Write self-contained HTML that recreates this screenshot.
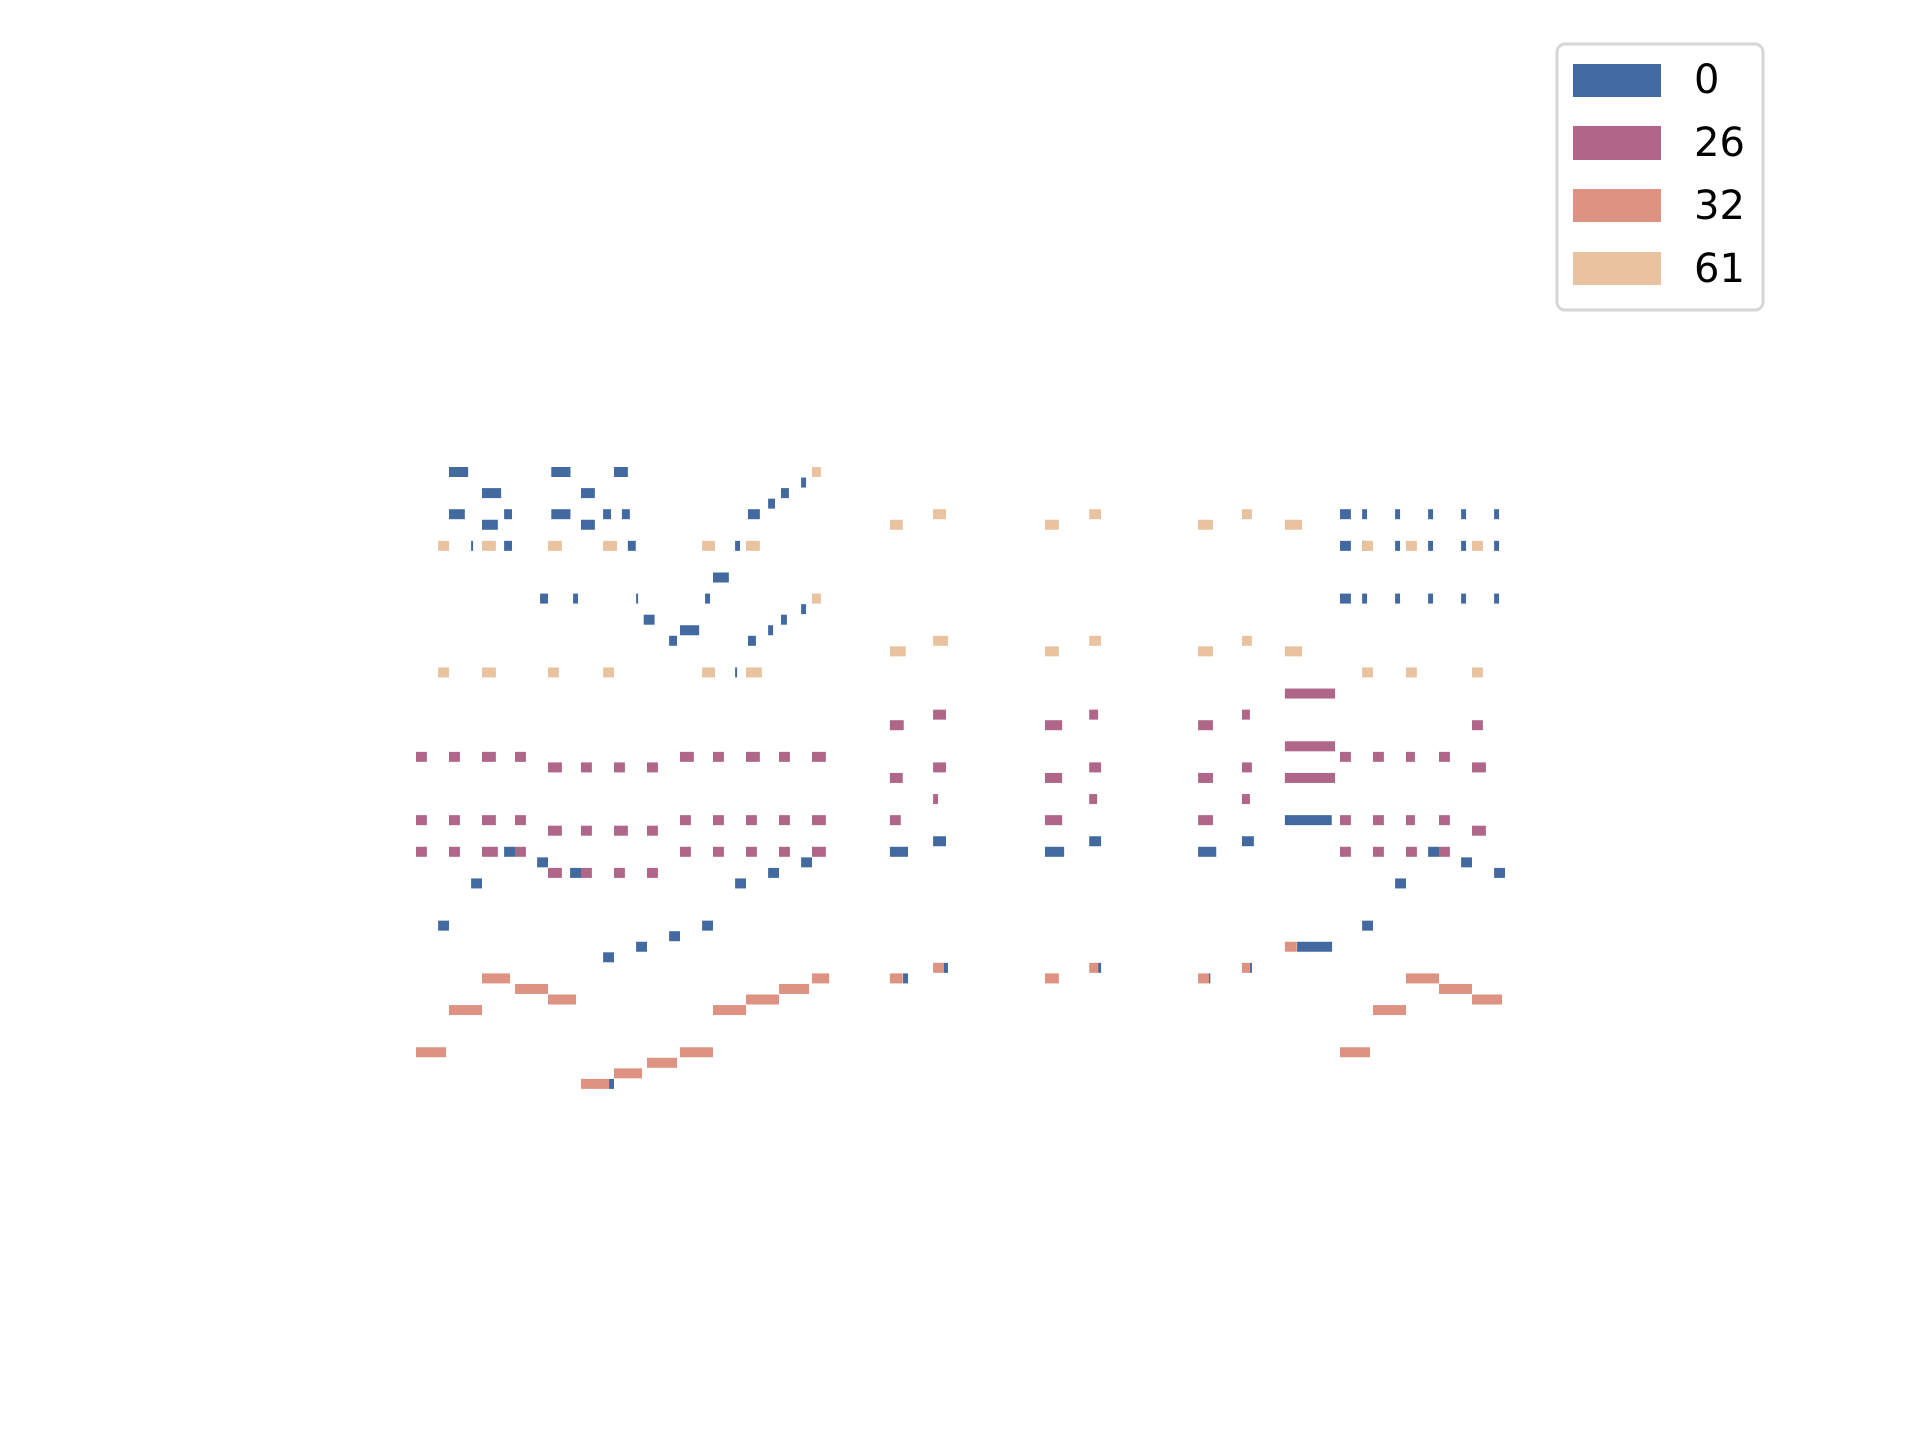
<!DOCTYPE html>
<html><head><meta charset="utf-8"><style>
html,body{margin:0;padding:0;background:#fff;}
#wrap{position:relative;width:1920px;height:1440px;overflow:hidden;}
svg{position:absolute;left:0;top:0;}
</style></head><body>
<div id="wrap">
<svg id="chart" width="1920" height="1440">
<g id="notes"></g>
<g id="legend">
<rect x="1557" y="44" width="206" height="266" rx="8" fill="#fff" stroke="#d6d6d6" stroke-width="3"/>
<g><rect x="1573" y="64" width="88" height="33" fill="#4269a0"/><text x="1694" y="93" font-family="DejaVu Sans, Liberation Sans, sans-serif" font-size="40">0</text></g>
<g><rect x="1573" y="126" width="88" height="34" fill="#b06688"/><text x="1694" y="156" font-family="DejaVu Sans, Liberation Sans, sans-serif" font-size="40">26</text></g>
<g><rect x="1573" y="189" width="88" height="33" fill="#dd9282"/><text x="1694" y="219" font-family="DejaVu Sans, Liberation Sans, sans-serif" font-size="40">32</text></g>
<g><rect x="1573" y="252" width="88" height="33" fill="#e9c39f"/><text x="1694" y="282" font-family="DejaVu Sans, Liberation Sans, sans-serif" font-size="40">61</text></g>
</g>
</svg>
</div>
<script>
// Series labels (program numbers) and colors
const seriesNames = ["0", "26", "32", "61"];
// Series 0 (blue): start beat, duration beat, pitch
const s0Start = [1,4.1,6,11.67,2,5,11.06,10.67,1,2.67,4.1,5.67,6.24,10.06,2,5,1.67,2.67,6.42,9.67,9,3.76,4.76,6.67,8.76,11.67,6.9,11.06,8,10.67,7.67,10.06,9.67,
 2.67,3.67,11.67,4.67,10.67,1.67,9.67,0.67,8.67,7.67,6.67,5.67,5.85,
 26.33,15.67,20.4,25.03,14.36,19.06,23.7,26.7,16,20.67,25.27,14.76,24.03,
 28,28.67,29.67,30.67,31.67,32.67, 28,28.67,29.67,30.67,31.67,32.67, 28,28.67,29.67,30.67,31.67,32.67,
 30.67,31.67,32.67,29.67,28.67];
const s0Dur = [.58,.58,.42,.15,.58,.42,.24,.21,.48,.24,.58,.24,.24,.36,.48,.42,.06,.24,.24,.15,.48,.24,.15,.06,.15,.15,.33,.18,.58,.15,.24,.24,.06,
 .33,.33,.33,.33,.33,.33,.33,.33,.33,.33,.33,.33,.15,
 1.42,.39,.36,.36,.55,.58,.55,1.06,.12,.09,.06,.15,.04,
 .33,.15,.15,.15,.15,.15, .33,.15,.15,.15,.15,.15, .33,.15,.15,.15,.15,.15,
 .33,.33,.33,.33,.33];
const s0Pitch = [100,100,100,99,98,98,98,97,96,96,96,96,96,96,95,95,93,93,93,93,90,88,88,88,88,87,86,86,85,85,84,84,81,
 64,63,63,62,62,61,61,57,57,56,55,54,42,
 67,65,65,65,64,64,64,55,53,53,53,52,52,
 96,96,96,96,96,96, 93,93,93,93,93,93, 88,88,88,88,88,88,
 64,63,62,61,57];
// Series 26 (mauve)
const s1Start = [0,1,2,3,8,9,10,11,12, 4,5,6,7, 0,1,2,3,8,9,10,11,12, 4,5,6,7, 0,1,2,3,8,9,10,11,12, 4,5,6,7,
 26.33, 15.67,20.4,25.03, 14.36,19.06,23.7,32, 26.33, 28,29,30,31, 15.67,20.4,25.03,32, 14.36,19.06,23.7,26.33,
 15.67,20.4,25.03, 14.36,19.06,23.7,28,29,30,31, 32, 28,29,30,31];
const s1Dur = [.33,.33,.42,.33,.42,.33,.42,.33,.42, .42,.33,.33,.33, .33,.33,.42,.33,.33,.33,.33,.33,.42, .42,.33,.42,.33, .33,.33,.48,.33,.33,.33,.33,.33,.42, .42,.33,.33,.33,
 1.52, .39,.27,.24, .42,.52,.45,.33, 1.52, .33,.33,.27,.33, .39,.36,.3,.42, .39,.52,.45,1.52,
 .15,.24,.24, .33,.52,.45,.33,.33,.27,.33, .42, .33,.33,.33,.33];
const s1Pitch = [73,73,73,73,73,73,73,73,73, 72,72,72,72, 67,67,67,67,67,67,67,67,67, 66,66,66,66, 64,64,64,64,64,64,64,64,64, 62,62,62,62,
 79, 77,77,77, 76,76,76,76, 74, 73,73,73,73, 72,72,72,72, 71,71,71,71,
 69,69,69, 67,67,67,67,67,67,67, 66, 64,64,64,64];
// Series 32 (salmon)
const s2Start = [2,12,30, 3,11,31, 4,10,32, 1,9,29, 0,8,28, 7, 6, 5, 26.33, 15.67,20.4,25.03, 14.36,19.06,23.7];
const s2Dur = [.85,.52,1, 1,.91,1, .85,1,.91, 1,1,1, .91,1,.91, .91, .85, .85, .36, .33,.27,.24, .39,.42,.33];
const s2Pitch = [52,52,52, 51,51,51, 50,50,50, 49,49,49, 45,45,45, 44, 43, 42, 55, 53,53,53, 52,52,52];
// Series 61 (beige)
const s3Start = [12, 15.67,20.4,25.03, 14.36,19.06,23.7,26.33, 0.67,2,4,5.67,8.67,10,28.67,30,32, 12, 15.67,20.4,25.03, 14.36,19.06,23.7,26.33, 0.67,2,4,5.67,8.67,10,28.67,30,32];
const s3Dur = [.27, .39,.36,.3, .39,.42,.45,.52, .33,.42,.42,.42,.39,.42,.33,.33,.33, .27, .45,.36,.3, .48,.42,.45,.52, .33,.42,.33,.33,.39,.48,.33,.33,.33];
const s3Pitch = [100, 96,96,96, 95,95,95,95, 93,93,93,93,93,93,93,93,93, 88, 84,84,84, 83,83,83,83, 81,81,81,81,81,81,81,81,81];

const colors = ["#4269a0", "#b06688", "#dd9282", "#e9c39f"];
const series = [[s0Start,s0Dur,s0Pitch],[s1Start,s1Dur,s1Pitch],[s2Start,s2Dur,s2Pitch],[s3Start,s3Dur,s3Pitch]];

// Axis functions
const X0 = 416, BEAT = 33;
const Y0 = 467, ROW = 10.55, TOP_PITCH = 100;
function xScale(t){ return X0 + t * BEAT; }
function yScale(p){ return Y0 + (TOP_PITCH - p) * ROW; }

const NS = "http://www.w3.org/2000/svg";
const layer = document.getElementById("notes");
series.forEach(function(s, si){
  const g = document.createElementNS(NS, "g");
  
  
  for (let i = 0; i < s[0].length; i++){
    const r = document.createElementNS(NS, "rect");
    const x = xScale(s[0][i]);
    r.setAttribute("x", x.toFixed(2));
    r.setAttribute("y", yScale(s[2][i]).toFixed(2));
    r.setAttribute("width", Math.max(1, xScale(s[0][i] + s[1][i]) - x).toFixed(2));
    r.setAttribute("height", "10");
    r.setAttribute("fill", colors[si]);
    
    
    g.appendChild(r);
  }
  layer.appendChild(g);
});
</script>
</body></html>
